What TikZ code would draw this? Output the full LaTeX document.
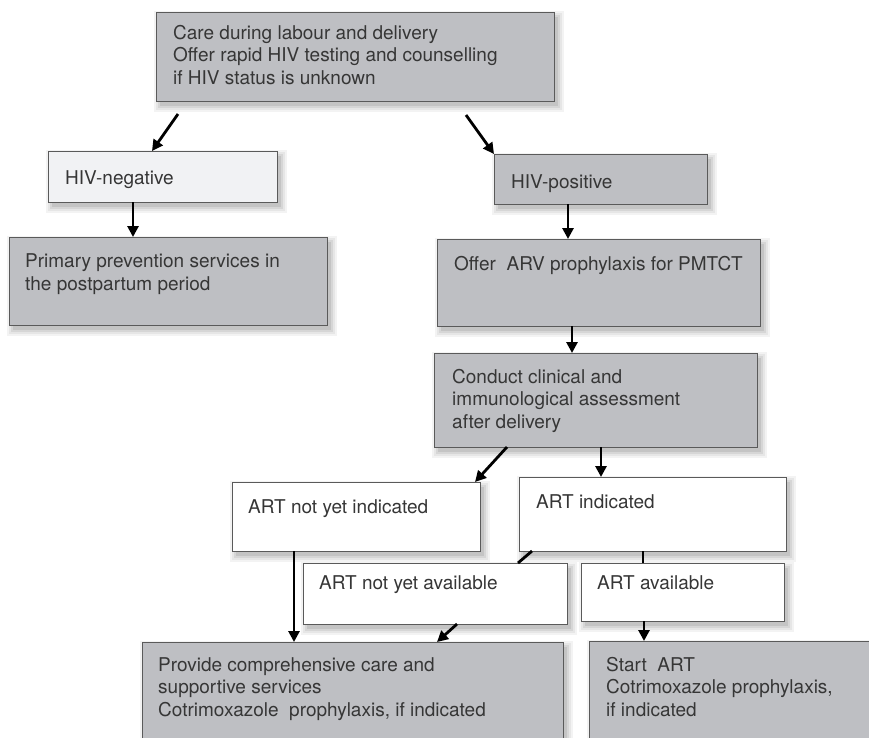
\documentclass[tikz,border=0pt]{standalone}
\usepackage{fontspec}
\setmainfont{TeX Gyre Heros}
\usetikzlibrary{arrows.meta}
\definecolor{boxgray}{HTML}{BEBFC3}
\definecolor{boxlight}{HTML}{F1F2F4}
\definecolor{edgegray}{HTML}{5A5A5A}
\definecolor{txtgray}{HTML}{363636}
\definecolor{shA}{HTML}{F3F3F3}
\definecolor{shB}{HTML}{E6E6E6}
\definecolor{shC}{HTML}{D6D6D6}
\definecolor{shD}{HTML}{C4C4C4}
\tikzset{
  box/.style={draw=edgegray, line width=0.8pt, inner sep=0pt, outer sep=0pt, anchor=north west},
  gbox/.style={box, fill=boxgray},
  lbox/.style={box, fill=boxlight},
  wbox/.style={box, fill=white},
  txt/.style={anchor=base west, inner sep=0pt, align=left, font=\fontsize{19}{22.5}\selectfont, text=txtgray},
  arr/.style={line width=2.8pt, -{Triangle[length=11pt,width=11pt]}},
  ln/.style={line width=2.8pt},
}
% #1 name, #2 style, #3 x, #4 y, #5 width, #6 height (pixels, y down)
\newcommand\mkbox[6]{%
  \fill[shA] (#3-2,#4-1) rectangle (#3+#5+10,#4+#6+11);
  \fill[shB] (#3,#4+1) rectangle (#3+#5+8,#4+#6+9);
  \fill[shC] (#3+2,#4+3) rectangle (#3+#5+6,#4+#6+7);
  \fill[shD] (#3+4,#4+5) rectangle (#3+#5+4,#4+#6+5);
  \node[#2, minimum width=#5pt, minimum height=#6pt] (#1) at (#3,#4) {};}
\begin{document}
\begin{tikzpicture}[x=1pt, y=-1pt]
\useasboundingbox (0,0) rectangle (869,737);
\clip (0,0) rectangle (869,737);
% boxes (base anchor = baseline of the last line)
\mkbox{top}{gbox}{156}{12}{398}{89}
\node[txt] (ttop) at (173,84) {Care during labour and delivery\\Offer rapid HIV testing and counselling\\if HIV status is unknown};

\mkbox{neg}{lbox}{48}{151}{229}{51}
\node[txt] (tneg) at (65,184) {HIV-negative};

\mkbox{prim}{gbox}{9}{237}{318}{88}
\node[txt] (tprim) at (25,290) {Primary prevention services in\\the postpartum period};

\mkbox{pos}{gbox}{494}{154}{213}{50}
\node[txt] (tpos) at (511,188) {HIV-positive};

\mkbox{offer}{gbox}{437}{239}{323}{87}
\node[txt] (toffer) at (454,270) {Offer\ \ ARV prophylaxis for PMTCT};

\mkbox{cond}{gbox}{434}{353}{323}{94}
\node[txt] (tcond) at (452,428) {Conduct clinical and\\immunological assessment\\after delivery};

\mkbox{notind}{wbox}{232}{482}{248}{69}
\node[txt] (tnotind) at (248,513) {ART not yet indicated};

\mkbox{ind}{wbox}{519}{477}{267}{74}
\node[txt] (tind) at (536,508) {ART indicated};

\mkbox{notav}{wbox}{303}{563}{264}{61}
\node[txt] (tnotav) at (319,589) {ART not yet available};

\mkbox{avail}{wbox}{581}{563}{203}{58}
\node[txt] (tavail) at (597,589) {ART available};

\mkbox{prov}{gbox}{142}{642}{421}{130}
\node[txt] (tprov) at (158,716) {Provide comprehensive care and\\supportive services\\Cotrimoxazole\ \ prophylaxis, if indicated};

\mkbox{start}{gbox}{589}{641}{300}{130}
\node[txt] (tstart) at (606,716) {Start\ \ ART\\Cotrimoxazole prophylaxis,\\if indicated};

% connectors
\draw[arr] ([xshift=22pt,yshift=-13pt]top.south west) -- ([xshift=104pt]neg.north west);
\draw[arr] ([xshift=310pt,yshift=-14pt]top.south west) -- (pos.north west);
\draw[arr] ([xshift=85pt]neg.south west) -- ([xshift=124pt]prim.north west);
\draw[arr] ([xshift=74pt]pos.south west) -- ([xshift=131pt]offer.north west);
\draw[arr] ([xshift=135pt]offer.south west) -- ([xshift=138pt]cond.north west);
\draw[arr] ([xshift=73pt]cond.south west) -- ([xshift=-5pt]notind.north east);
\draw[arr] ([xshift=167pt]cond.south west) -- ([xshift=82pt]ind.north west);
\draw[arr] ([xshift=62pt]notind.south west) -- ([xshift=152pt]prov.north west);
\draw[ln] ([xshift=13pt]ind.south west) -- ([xshift=215pt]notav.north west);
\draw[ln] ([xshift=124pt]ind.south west) -- ([xshift=62pt]avail.north west);
\draw[arr] ([xshift=154pt]notav.south west) -- ([xshift=295pt]prov.north west);
\draw[arr] ([xshift=63pt]avail.south west) -- ([xshift=55pt]start.north west);
\end{tikzpicture}
\end{document}
